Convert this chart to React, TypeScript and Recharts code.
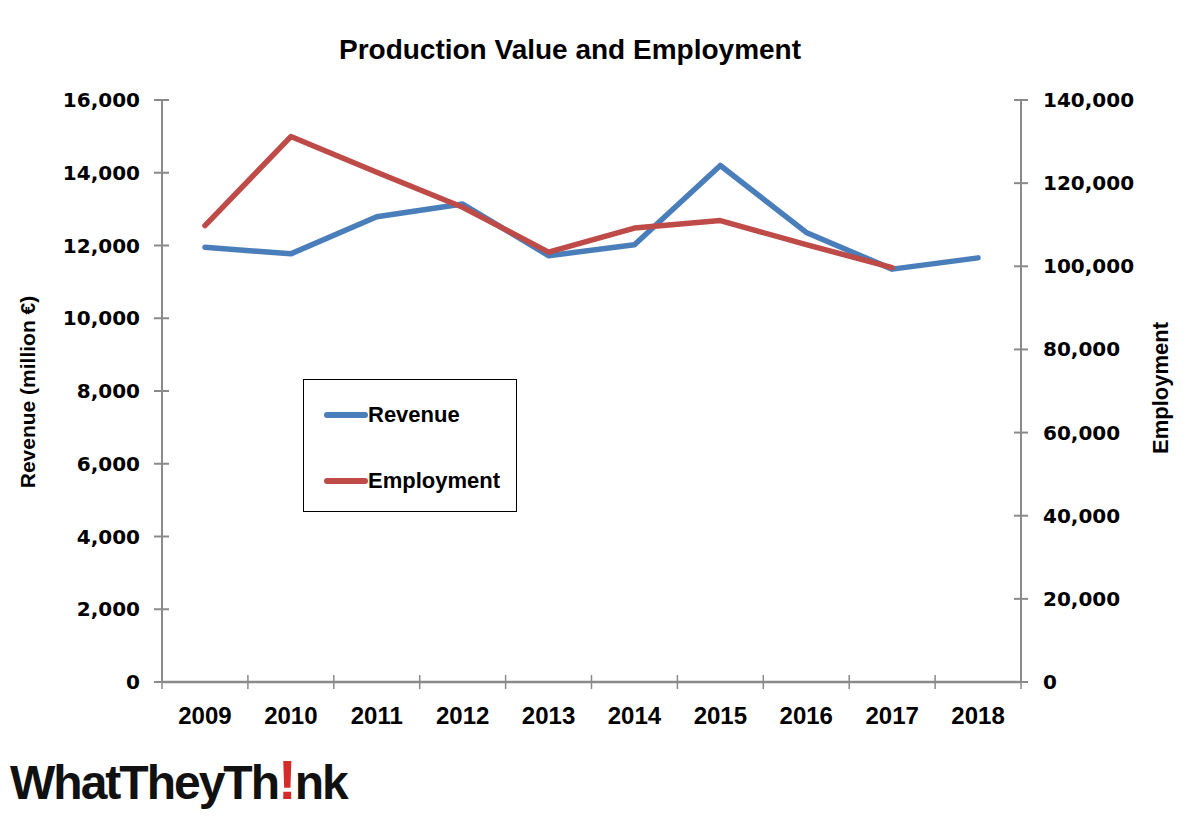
import React from 'react';
import { LineChart, Line, XAxis, YAxis, Legend } from 'recharts';

const years = ['2009', '2010', '2011', '2012', '2013', '2014', '2015', '2016', '2017', '2018'];
const revenue = [11950, 11770, 12790, 13140, 11720, 12020, 14200, 12360, 11350, 11660];
const employment = [109800, 131200, 122600, 114200, 103400, 109200, 111000, 105200, 99700, null];
const revenueTicks = [0, 2000, 4000, 6000, 8000, 10000, 12000, 14000, 16000];
const employmentTicks = [0, 20000, 40000, 60000, 80000, 100000, 120000, 140000];
const seriesOrder = ['Revenue', 'Employment'];

const data = years.map((year, i) => ({
  year,
  Revenue: revenue[i],
  Employment: employment[i],
}));

const AXIS = '#8a8a8a';
const BLUE = '#4A7EBB';
const RED = '#BE4B48';
const numFont = "'DejaVu Sans', sans-serif";
const labelFont = "'Liberation Sans', Arial, sans-serif";

const fmt = (v: number) => v.toLocaleString('en-US');

const LeftTick = (props: any) => {
  const { x, y, payload } = props;
  const ax = x + 22;
  return (
    <g>
      <line x1={ax - 8} x2={ax + 7} y1={y} y2={y} stroke={AXIS} strokeWidth={2} />
      <text x={x} y={y} dy={7} textAnchor="end" fontFamily={numFont} fontWeight="bold" fontSize={20} fill="#000">
        {fmt(payload.value)}
      </text>
    </g>
  );
};

const RightTick = (props: any) => {
  const { x, y, payload } = props;
  const ax = x - 22;
  return (
    <g>
      <line x1={ax - 7} x2={ax + 7} y1={y} y2={y} stroke={AXIS} strokeWidth={2} />
      <text x={x} y={y} dy={7} textAnchor="start" fontFamily={numFont} fontWeight="bold" fontSize={20} fill="#000">
        {fmt(payload.value)}
      </text>
    </g>
  );
};

const YearTick = (props: any) => {
  const { x, y, payload, index, visibleTicksCount } = props;
  const ay = y - 34;
  const off = payload && payload.offset ? payload.offset : 43;
  const last = index === visibleTicksCount - 1;
  return (
    <g>
      <line x1={x - off} x2={x - off} y1={ay - 7} y2={ay + 7} stroke={AXIS} strokeWidth={1.5} />
      {last && <line x1={x + off} x2={x + off} y1={ay - 7} y2={ay + 7} stroke={AXIS} strokeWidth={1.5} />}
      <text x={x} y={y} dy={8} textAnchor="middle" fontFamily={labelFont} fontWeight="bold" fontSize={24} fill="#000">
        {payload.value}
      </text>
    </g>
  );
};

const LegendBox = (props: any) => {
  const items = [...(props.payload || [])].sort(
    (a: any, b: any) => seriesOrder.indexOf(a.value) - seriesOrder.indexOf(b.value)
  );
  return (
    <div style={{ width: 212, height: 131, border: '1.5px solid #000', background: '#fff', position: 'relative' }}>
      {items.map((it: any, i: number) => (
        <div key={it.value} style={{ position: 'absolute', left: 20, top: 22 + i * 66, display: 'flex', alignItems: 'center' }}>
          <svg width={44} height={10}>
            <line x1={3} x2={41} y1={5} y2={5} stroke={it.color} strokeWidth={6} strokeLinecap="round" />
          </svg>
          <span style={{ fontFamily: labelFont, fontWeight: 'bold', fontSize: 22, color: '#000' }}>{it.value}</span>
        </div>
      ))}
    </div>
  );
};

export default function App() {
  return (
    <div style={{ position: 'absolute', left: 0, top: 0, width: 1200, height: 817, background: '#fff' }}>
      <div style={{ position: 'absolute', left: 0, width: 1140, top: 34, textAlign: 'center', fontFamily: labelFont, fontWeight: 'bold', fontSize: 28, color: '#000' }}>
        Production Value and Employment
      </div>
      <div style={{ position: 'absolute', left: 28, top: 392, transform: 'translate(-50%, -50%) rotate(-90deg)', whiteSpace: 'nowrap', fontFamily: labelFont, fontWeight: 'bold', fontSize: 21, color: '#000' }}>
        Revenue (million €)
      </div>
      <div style={{ position: 'absolute', left: 1161, top: 388, transform: 'translate(-50%, -50%) rotate(-90deg)', whiteSpace: 'nowrap', fontFamily: labelFont, fontWeight: 'bold', fontSize: 22, color: '#000' }}>
        Employment
      </div>
      <LineChart width={1200} height={817} data={data} margin={{ top: 100, right: 0, bottom: 75, left: 0 }}>
        <XAxis
          dataKey="year"
          scale="band"
          height={60}
          tickSize={0}
          tickMargin={34}
          axisLine={{ stroke: AXIS, strokeWidth: 2.5 }}
          tickLine={false}
          tick={<YearTick />}
          interval={0}
        />
        <YAxis
          yAxisId="left"
          orientation="left"
          width={162}
          domain={[0, 16000]}
          ticks={revenueTicks}
          tickSize={0}
          tickMargin={22}
          axisLine={{ stroke: AXIS, strokeWidth: 2 }}
          tickLine={false}
          tick={<LeftTick />}
          interval={0}
        />
        <YAxis
          yAxisId="right"
          orientation="right"
          width={179}
          domain={[0, 140000]}
          ticks={employmentTicks}
          tickSize={0}
          tickMargin={22}
          axisLine={{ stroke: AXIS, strokeWidth: 2 }}
          tickLine={false}
          tick={<RightTick />}
          interval={0}
        />
        <Legend
          layout="vertical"
          align="center"
          verticalAlign="middle"
          content={<LegendBox />}
          wrapperStyle={{ position: 'absolute', left: 303, top: 379, width: 215, height: 134, bottom: 'auto', right: 'auto', margin: 0 }}
        />
        <Line
          yAxisId="left"
          dataKey="Revenue"
          stroke={BLUE}
          strokeWidth={5.5}
          strokeLinecap="round"
          strokeLinejoin="round"
          dot={false}
          isAnimationActive={false}
        />
        <Line
          yAxisId="right"
          dataKey="Employment"
          stroke={RED}
          strokeWidth={5.5}
          strokeLinecap="round"
          strokeLinejoin="round"
          dot={false}
          isAnimationActive={false}
        />
      </LineChart>
      <div style={{ position: 'absolute', left: 10, top: 752, fontFamily: labelFont, fontWeight: 'bold', fontSize: 48, letterSpacing: -2, color: '#111', lineHeight: '56px', whiteSpace: 'nowrap' }}>
        WhatTheyTh<span style={{ color: '#D42B2B', fontSize: 56 }}>!</span>nk
      </div>
    </div>
  );
}
